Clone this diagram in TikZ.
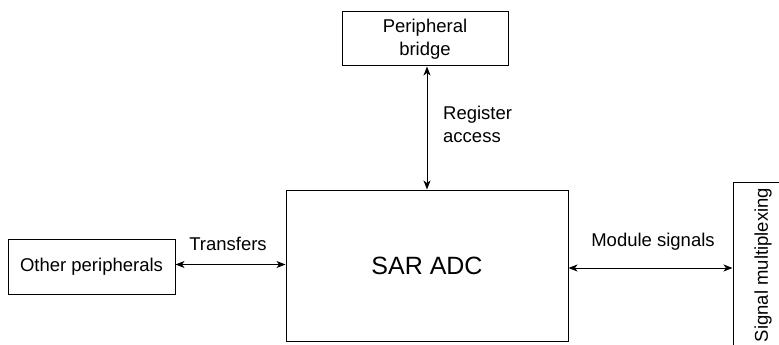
\documentclass[tikz,border=0pt]{standalone}
\usepackage{fontspec}
\setmainfont{Liberation Sans}
\usetikzlibrary{arrows.meta}
\begin{document}
\begin{tikzpicture}[x=1pt,y=-1pt,
  blk/.style={draw, line width=1pt, inner sep=0pt, align=center, font=\fontsize{18.5}{23}\selectfont},
  lbl/.style={inner sep=0pt, align=left, font=\fontsize{18.5}{23}\selectfont},
  conn/.style={line width=1pt, {Stealth[length=9pt,width=7pt,inset=2.5pt]}-{Stealth[length=9pt,width=7pt,inset=2.5pt]}}]
\useasboundingbox (0,0) rectangle (779,345);
\node[blk, minimum width=167pt, minimum height=55pt] (op) at (91.5,266.5) {Other peripherals};
\node[blk, minimum width=282pt, minimum height=151pt, font=\fontsize{25}{30}\selectfont] (sar) at (427,265.5) {SAR ADC};
\node[blk, minimum width=166pt, minimum height=54pt] (pb) at (425,39) {Peripheral\\bridge};
\node[blk, minimum width=59pt, minimum height=172pt] (sm) at (762.5,268) {};
\node[lbl, rotate=90] (smt) at (763,265) {Signal multiplexing};
\draw[conn] (op.east) ++(0,-2) coordinate (opa) -- (opa -| sar.west);
\draw[conn] (sar.east |- sm.west) -- (sm.west);
\draw[conn] (pb.south -| sar.north) -- (sar.north);
\node[lbl, anchor=north west] (ra) at (443,106) {Register\\access};
\node[lbl] (tr) at (228,244) {Transfers};
\node[lbl] (ms) at (653,242) {Module signals};
\end{tikzpicture}
\end{document}
